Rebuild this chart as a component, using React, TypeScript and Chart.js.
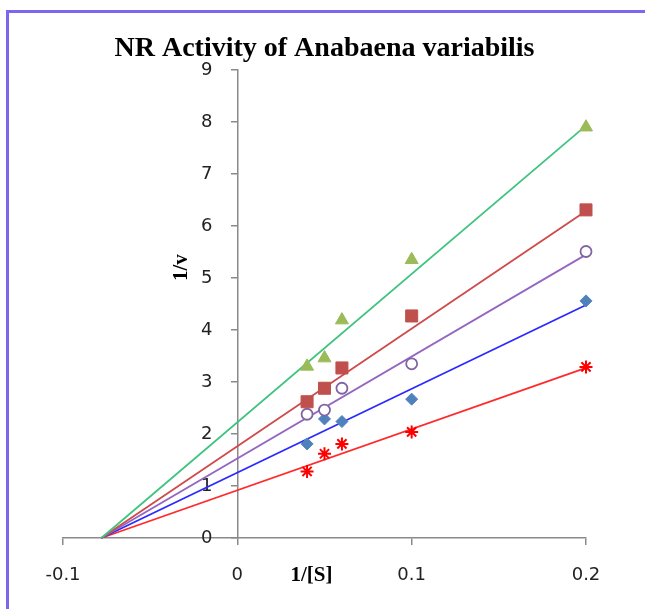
import React, { useEffect, useRef } from "react";
import { Chart, registerables } from "chart.js";

Chart.register(...registerables);

const titleText = "NR Activity of Anabaena variabilis";
const xTitle = "1/[S]";
const yTitle = "1/v";

const xValues = [0.04, 0.05, 0.06, 0.1, 0.2];
const seriesTriangle = [3.3, 3.46, 4.19, 5.35, 7.9];
const seriesSquare = [2.62, 2.88, 3.27, 4.27, 6.31];
const seriesCircle = [2.38, 2.46, 2.88, 3.35, 5.51];
const seriesDiamond = [1.81, 2.29, 2.24, 2.67, 4.56];
const seriesStar = [1.28, 1.62, 1.81, 2.04, 3.29];

// trend lines: start at the common x-intercept, end at x = 0.2
const trendStartX = -0.078;
const trendEndX = 0.2;
const trendEndValues = [7.93, 6.29, 5.45, 4.48, 3.27];

const xTicksMin = -0.1;
const xTicksMax = 0.2;
const yTicksMin = 0;
const yTicksMax = 9;

const pointColors = ["#9bbb59", "#c0504d", "#8064a2", "#4f81bd", "#ff0000"];
const lineColors = ["#3fc47f", "#cf4a4a", "#9466c0", "#2a2aff", "#ff2a2a"];
const pointStyles = ["triangle", "rect", "circle", "rectRot", "star"];
const pointRadii = [7.5, 8.5, 5.5, 6, 6.5];

const allSeries = [seriesTriangle, seriesSquare, seriesCircle, seriesDiamond, seriesStar];

const Y_LABEL_SHIFT = 25;

const axisTitlePlugin = {
  id: "axisTitles",
  afterDraw(chart: any) {
    const { ctx } = chart;
    const xs = chart.scales.x;
    const ys = chart.scales.y;
    ctx.save();
    ctx.fillStyle = "#000";
    ctx.font = "bold 21px 'Liberation Serif'";
    ctx.textAlign = "center";
    ctx.textBaseline = "middle";
    ctx.fillText(xTitle, xs.getPixelForValue(0.0425), ys.bottom + 38);
    ctx.translate(xs.getPixelForValue(0) - 56, ys.getPixelForValue(5.2));
    ctx.rotate(-Math.PI / 2);
    ctx.fillText(yTitle, 0, 0);
    ctx.restore();
  },
};

function patchYLabels(scale: any) {
  if (scale.__patched) return;
  const orig = scale._computeLabelItems.bind(scale);
  scale._computeLabelItems = (ca: any) => {
    const items = orig(ca);
    items.forEach((it: any) => {
      const t = it.options.translation;
      it.options.translation = [t[0] - Y_LABEL_SHIFT, t[1]];
    });
    return items;
  };
  scale.__patched = true;
}

export default function App() {
  const ref = useRef<HTMLCanvasElement | null>(null);
  useEffect(() => {
    if (!ref.current) return;
    const pointSets = allSeries.map((s, i) => ({
      label: "S" + i,
      data: s.map((v, j) => ({ x: xValues[j], y: v })),
      showLine: false,
      pointStyle: pointStyles[i],
      pointRadius: pointRadii[i],
      pointBackgroundColor: i === 2 ? "#ffffff" : pointColors[i],
      pointBorderColor: pointColors[i],
      pointBorderWidth: i === 2 ? 1.8 : i === 4 ? 2 : 1,
      clip: false,
      order: 0,
    }));
    const lineSets = trendEndValues.map((v, i) => ({
      label: "T" + i,
      data: [
        { x: trendStartX, y: 0 },
        { x: trendEndX, y: v },
      ],
      showLine: true,
      borderColor: lineColors[i],
      borderWidth: 1.8,
      pointRadius: 0,
      clip: false,
      order: 1,
    }));
    const chart = new Chart(ref.current, {
      type: "scatter",
      data: { datasets: [...lineSets, ...pointSets] as any },
      plugins: [axisTitlePlugin],
      options: {
        animation: false,
        responsive: false,
        layout: { padding: { left: 63, right: 59, top: 0, bottom: 0 } },
        plugins: {
          legend: { display: false },
          tooltip: { enabled: false },
          title: {
            display: true,
            text: titleText,
            color: "#000",
            font: { family: "'Liberation Serif'", size: 28, weight: "bold" },
            padding: { top: 32, bottom: 4.4 },
          },
        },
        scales: {
          x: {
            type: "linear",
            position: "bottom",
            min: xTicksMin,
            max: xTicksMax,
            afterFit: (s: any) => {
              s.height = 71;
            },
            ticks: {
              stepSize: 0.1,
              color: "#222",
              font: { family: "'DejaVu Sans'", size: 18 },
              padding: 20,
              callback: (v: any) => String(Number(Number(v).toFixed(1))),
            },
            grid: {
              display: true,
              drawOnChartArea: false,
              drawTicks: true,
              tickLength: 7,
              color: "#8a8a8a",
              lineWidth: 1.5,
            },
            border: { display: true, color: "#8a8a8a", width: 1.5 },
          },
          y: {
            type: "linear",
            position: { x: 0 } as any,
            min: yTicksMin,
            max: yTicksMax,
            afterUpdate: (s: any) => patchYLabels(s),
            ticks: {
              stepSize: 1,
              color: "#222",
              font: { family: "'DejaVu Sans'", size: 18 },
            },
            grid: {
              display: true,
              drawOnChartArea: false,
              drawTicks: true,
              tickLength: 6,
              color: "#8a8a8a",
              lineWidth: 1.5,
            },
            border: { display: true, color: "#8a8a8a", width: 1.5 },
          },
        },
      },
    });
    return () => chart.destroy();
  }, []);
  return (
    <div
      style={{
        position: "fixed",
        left: 0,
        top: 0,
        width: 645,
        height: 609,
        background: "#fff",
        overflow: "hidden",
      }}
    >
      <div
        style={{
          position: "absolute",
          left: 6,
          top: 10,
          width: 700,
          height: 700,
          borderLeft: "3px solid #7b68ee",
          borderTop: "3px solid #7b68ee",
        }}
      />
      <canvas
        ref={ref}
        width={645}
        height={609}
        style={{ position: "absolute", left: 0, top: 0, width: 645, height: 609 }}
      />
    </div>
  );
}
